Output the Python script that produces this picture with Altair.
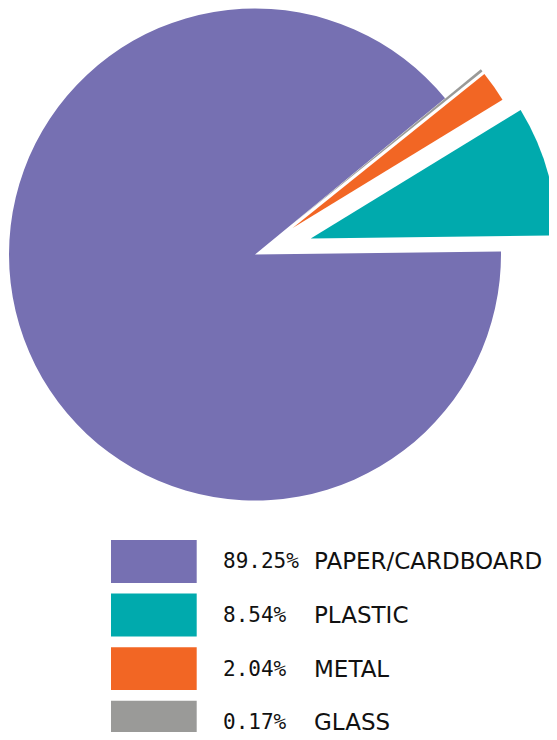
import math
import altair as alt
import pandas as pd

# ---- data ----
categories = ["PAPER/CARDBOARD", "PLASTIC", "METAL", "GLASS"]
shares = [89.25, 8.54, 2.04, 0.17]
colors = ["#7670B2", "#00AAAD", "#F26624", "#9A9A98"]

# clockwise drawing order of the slices starting at 3 o'clock
slice_order = ["PAPER/CARDBOARD", "GLASS", "METAL", "PLASTIC"]

# ---- style ----
explode = {"PAPER/CARDBOARD": 0, "PLASTIC": 58, "METAL": 46, "GLASS": 46}
CX, CY, R = 247, 246.5, 246
START = math.radians(89.3)  # just above 3 o'clock

W, H = 541, 724

pie_df = pd.DataFrame({
    "category": categories,
    "value": shares,
    "order": [slice_order.index(c) for c in categories],
    "explode": [explode[c] for c in categories],
})

legend_df = pd.DataFrame({
    "category": categories,
    "value": shares,
})

color_scale = alt.Scale(domain=categories, range=colors)

pie = (
    alt.Chart(pie_df)
    .transform_window(cum="sum(value)", sort=[{"field": "order"}], frame=[None, 0])
    .transform_calculate(start="datum.cum - datum.value", end="datum.cum")
    .transform_calculate(
        mid=f"{START} + (datum.start + datum.end) / 200 * 2 * PI"
    )
    .transform_calculate(
        px=f"{CX} + datum.explode * sin(datum.mid)",
        py=f"{CY} - datum.explode * cos(datum.mid)",
    )
    .mark_arc(outerRadius=R, stroke=None)
    .encode(
        theta=alt.Theta(
            "start:Q",
            stack=None,
            scale=alt.Scale(domain=[0, 100], range=[START, START + 2 * math.pi]),
        ),
        theta2="end:Q",
        x=alt.X("px:Q", scale=None, axis=None),
        y=alt.Y("py:Q", scale=None, axis=None),
        color=alt.Color("category:N", scale=color_scale, legend=None),
    )
)

row_scale = alt.Scale(
    type="band",
    domain=categories,
    range=[532, 735.7],
    paddingInner=0.2,
    paddingOuter=0,
)

legend_rects = (
    alt.Chart(legend_df)
    .mark_rect()
    .encode(
        x=alt.value(103),
        x2=alt.value(188.7),
        y=alt.Y("category:N", scale=row_scale, axis=None),
        color=alt.Color("category:N", scale=color_scale, legend=None),
    )
)

legend_pct = (
    alt.Chart(legend_df)
    .transform_calculate(label="format(datum.value, '.2f') + '%'")
    .mark_text(
        align="left",
        baseline="middle",
        font="DejaVu Sans Mono",
        fontSize=21,
        color="#111111",
        dy=1,
    )
    .encode(
        x=alt.value(215),
        y=alt.Y("category:N", scale=row_scale, axis=None),
        text="label:N",
    )
)

legend_names = (
    alt.Chart(legend_df)
    .mark_text(
        align="left",
        baseline="middle",
        font="DejaVu Sans",
        fontSize=23,
        color="#111111",
        dy=1,
    )
    .encode(
        x=alt.value(306),
        y=alt.Y("category:N", scale=row_scale, axis=None),
        text="category:N",
    )
)

legend = alt.layer(legend_rects, legend_pct, legend_names)

chart = (
    alt.layer(pie, legend)
    .resolve_scale(x="independent", y="independent")
    .properties(width=W, height=H, padding=0, autosize=alt.AutoSizeParams(type="none"))
    .configure_view(stroke=None)
)

chart.save("out.html", embed_options={"renderer": "svg", "actions": False})
